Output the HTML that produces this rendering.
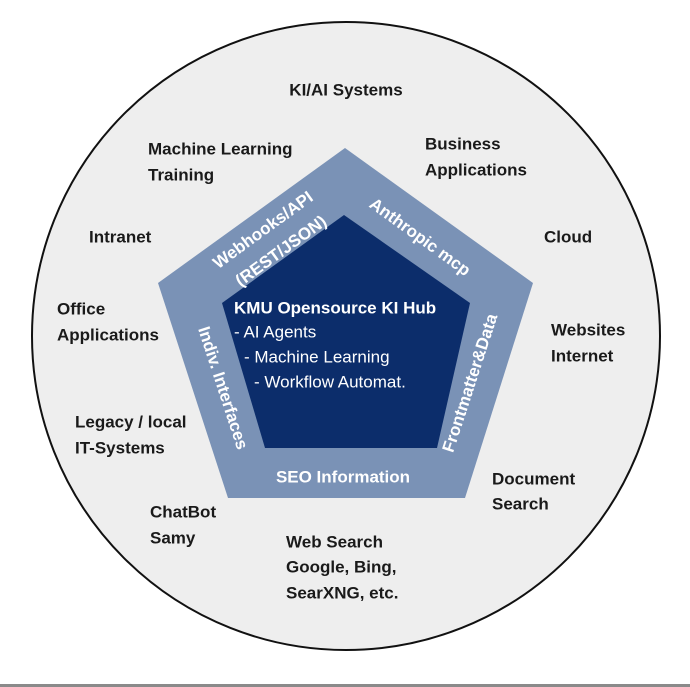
<!DOCTYPE html>
<html><head><meta charset="utf-8"><style>
html,body{margin:0;padding:0;background:#fff;}
svg{display:block;}
text{font-family:"Liberation Sans",Arial,sans-serif;}
.o{font-size:17px;font-weight:bold;fill:#1a1a1a;dominant-baseline:central;}
.b{font-size:17px;font-weight:bold;fill:#fff;dominant-baseline:central;}
.c{font-size:17px;fill:#fff;dominant-baseline:central;}
</style></head><body>
<svg width="690" height="687" viewBox="0 0 690 687" xmlns="http://www.w3.org/2000/svg">
<rect width="690" height="687" fill="#fff"/>
<rect x="0" y="684" width="690" height="3" fill="#8a8a8a"/>
<circle cx="346" cy="336" r="314" fill="#eeeeee" stroke="#111" stroke-width="2"/>
<polygon points="345,148 533,283 465,498 228,498 158,283" fill="#7a92b6"/>
<polygon points="344,215 470,303 437,448 265,448 222,303" fill="#0c2d6b"/>
<text class="o" x="346" y="90" text-anchor="middle">KI/AI Systems</text>
<text class="o" x="148" y="149">Machine Learning</text>
<text class="o" x="148" y="175">Training</text>
<text class="o" x="425" y="144">Business</text>
<text class="o" x="425" y="170">Applications</text>
<text class="o" x="89" y="237">Intranet</text>
<text class="o" x="544" y="237">Cloud</text>
<text class="o" x="57" y="309">Office</text>
<text class="o" x="57" y="335">Applications</text>
<text class="o" x="551" y="330">Websites</text>
<text class="o" x="551" y="356">Internet</text>
<text class="o" x="75" y="422">Legacy / local</text>
<text class="o" x="75" y="448">IT-Systems</text>
<text class="o" x="492" y="479">Document</text>
<text class="o" x="492" y="504">Search</text>
<text class="o" x="150" y="512">ChatBot</text>
<text class="o" x="150" y="538">Samy</text>
<text class="o" x="286" y="542">Web Search</text>
<text class="o" x="286" y="567">Google, Bing,</text>
<text class="o" x="286" y="593">SearXNG, etc.</text>
<text class="b" text-anchor="middle" transform="translate(263,230) rotate(-36)">Webhooks/API</text>
<text class="b" text-anchor="middle" transform="translate(281,251) rotate(-36)">(REST/JSON)</text>
<text class="b" text-anchor="middle" transform="translate(420,237) rotate(36)">Anthropic mcp</text>
<text class="b" text-anchor="middle" transform="translate(470,383) rotate(-72)">Frontmatter&amp;Data</text>
<text class="b" text-anchor="middle" transform="translate(223,388) rotate(72)">Indiv. Interfaces</text>
<text class="b" x="343" y="477" text-anchor="middle">SEO Information</text>
<text class="c" x="234" y="308" font-weight="bold">KMU Opensource KI Hub</text>
<text class="c" x="234" y="332">- AI Agents</text>
<text class="c" x="244" y="357">- Machine Learning</text>
<text class="c" x="254" y="382">- Workflow Automat.</text>
</svg>
</body></html>
